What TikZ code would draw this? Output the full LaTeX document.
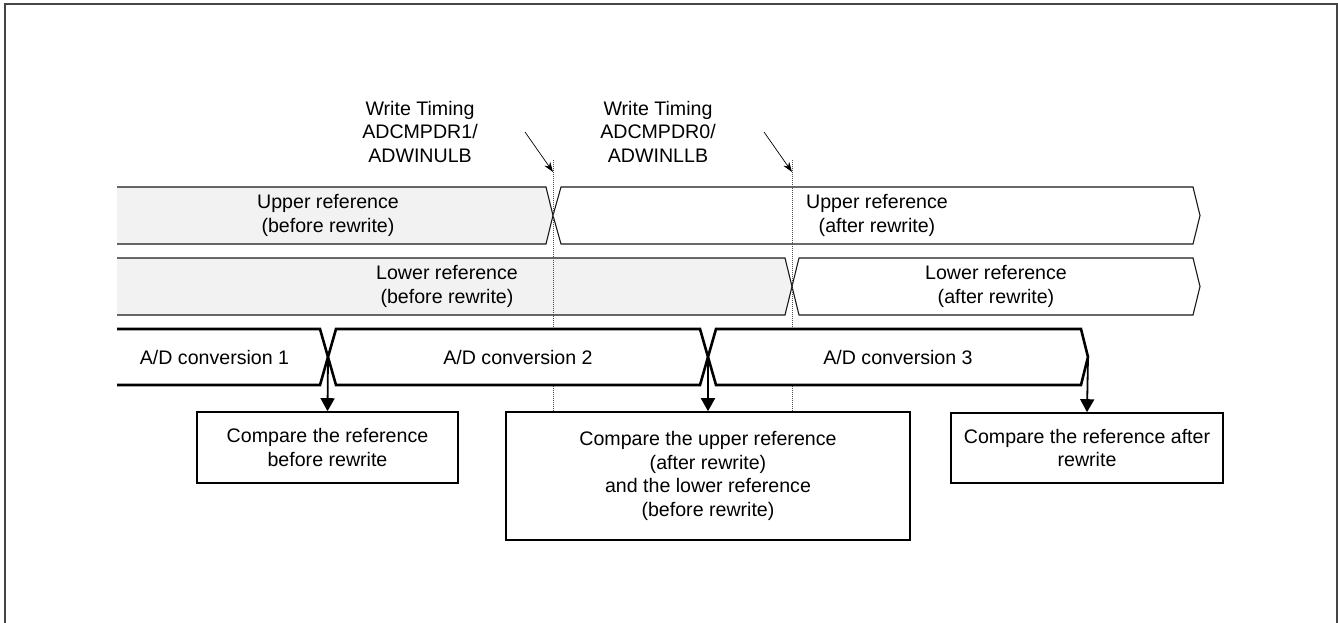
\documentclass[tikz,border=0pt]{standalone}
\usepackage{fontspec}
\setmainfont{Liberation Sans}
\usetikzlibrary{arrows.meta}
\definecolor{framecol}{HTML}{454545}
\definecolor{beforefill}{HTML}{F2F2F2}
\begin{document}
\begin{tikzpicture}[x=1pt,y=-1pt,
  font=\fontsize{19.6}{23.5}\selectfont,
  refrow/.style={draw=black!90, line width=1.1pt, line join=miter},
  beforerow/.style={refrow, fill=beforefill},
  afterrow/.style={refrow, fill=white},
  adrow/.style={draw=black, line width=2.6pt, fill=white, line join=miter},
  lbl/.style={align=center, inner sep=0pt},
  cmpbox/.style={draw=black, line width=1.6pt, fill=white, align=center, inner sep=0pt},
  timeline/.style={draw=black!70, line width=0.6pt, dash pattern=on 1pt off 1pt},
  wtarrow/.style={draw=black, line width=0.7pt, -{Stealth[length=10pt,width=7pt]}},
  cmparrow/.style={draw=black, line width=1.8pt, -{Triangle[length=13pt,width=14pt]}}
]
\useasboundingbox (0,0) rectangle (1338,623);
% outer frame
\draw[framecol, line width=2pt] (5,623) -- (5,4) -- (1337,4) -- (1337,623);

% upper reference row
\path[beforerow] (117,187) -- (546,187) -- (553,215.5) -- (546,244) -- (117,244);
\draw[afterrow] (561,187) -- (1193,187) -- (1200,215.5) -- (1193,244) -- (561,244) -- (553,215.5) -- cycle;
\node[lbl] (ub) at (328,215.5) {Upper reference\\(before rewrite)};
\node[lbl] (ua) at (877,215.5) {Upper reference\\(after rewrite)};

% lower reference row
\path[beforerow] (117,258) -- (785,258) -- (792,286.5) -- (785,315) -- (117,315);
\draw[afterrow] (799,258) -- (1193,258) -- (1200,286.5) -- (1193,315) -- (799,315) -- (792,286.5) -- cycle;
\node[lbl] (lb) at (447,286.5) {Lower reference\\(before rewrite)};
\node[lbl] (la) at (996,286.5) {Lower reference\\(after rewrite)};

% write timing
\node[lbl] (wt1) at (420,131.5) {Write Timing\\ADCMPDR1/\\ADWINULB};
\node[lbl] (wt0) at (658,131.5) {Write Timing\\ADCMPDR0/\\ADWINLLB};
\coordinate (t1top) at (553,160);
\coordinate (t1bot) at (553,412);
\coordinate (t0top) at (792,160);
\coordinate (t0bot) at (792,412);
\draw[timeline] (t1top) -- (t1bot);
\draw[timeline] (t0top) -- (t0bot);
\coordinate (w1s) at (525,132);
\coordinate (w1e) at (553,172);
\coordinate (w0s) at (764,132);
\coordinate (w0e) at (792,172);
\draw[wtarrow] (w1s) -- (w1e);
\draw[wtarrow] (w0s) -- (w0e);

% A/D conversion row
\path[adrow] (117,329) -- (320,329) -- (328,357) -- (320,385) -- (117,385);
\draw[adrow] (336,329) -- (700,329) -- (708,357) -- (700,385) -- (336,385) -- (328,357) -- cycle;
\draw[adrow] (716,329) -- (1081,329) -- (1088,357) -- (1081,385) -- (716,385) -- (708,357) -- cycle;
\node[lbl] (ad1) at (214.5,357) {A/D conversion 1};
\node[lbl] (ad2) at (518,357) {A/D conversion 2};
\node[lbl] (ad3) at (898,357) {A/D conversion 3};
\coordinate (x1) at (328,357);
\coordinate (x2) at (708,357);
\coordinate (x3) at (1088,357);

% compare boxes
\node[cmpbox, minimum width=261pt, minimum height=71pt] (b1) at (327.5,447.5) {Compare the reference\\before rewrite};
\node[cmpbox, minimum width=404pt, minimum height=128pt] (b2) at (708,476) {Compare the upper reference\\(after rewrite)\\and the lower reference\\(before rewrite)};
\node[cmpbox, minimum width=272pt, minimum height=70pt] (b3) at (1087,448) {Compare the reference after\\rewrite};

\draw[cmparrow] (x1) -- (b1.north);
\draw[cmparrow] (x2) -- (b2.north);
\draw[cmparrow] (x3) -- (b3.north);
\end{tikzpicture}
\end{document}
